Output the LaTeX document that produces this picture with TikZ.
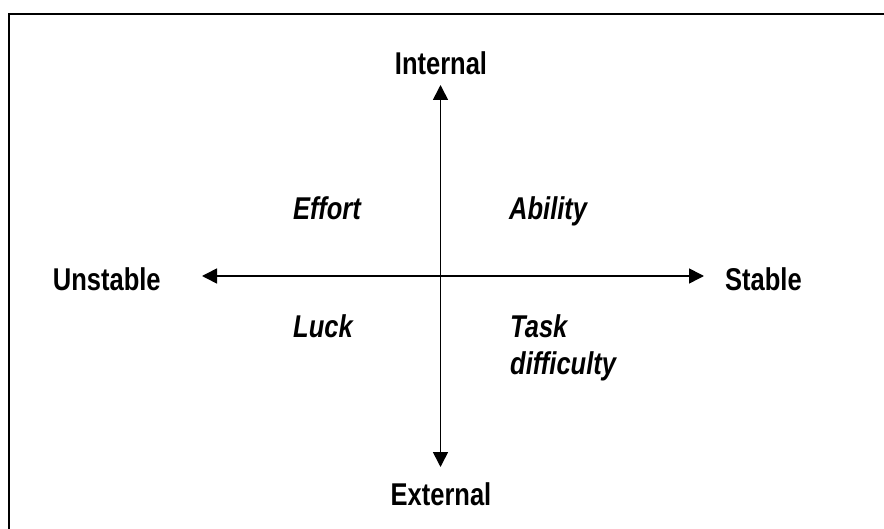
\documentclass[tikz,border=0pt]{standalone}
\usepackage{fontspec}
\setmainfont{Liberation Sans}[FakeStretch=0.81]
\usetikzlibrary{arrows.meta}
\begin{document}
\begin{tikzpicture}[x=1pt,y=-1pt,
  axis/.style={line width=1.6pt,{Triangle[length=15pt,width=15pt]}-{Triangle[length=15pt,width=15pt]}},
  lbl/.style={inner sep=0pt,font=\fontsize{31.5}{36}\selectfont\bfseries},
  cause/.style={lbl,font=\fontsize{31.5}{36}\selectfont\bfseries\itshape,align=left}]
\useasboundingbox (0,0) rectangle (884,529);
\draw[line width=2pt] (9,529) -- (9,14) -- (884,14);
\coordinate (top) at (440.5,85);
\coordinate (bot) at (440.5,467);
\coordinate (lft) at (202,276);
\coordinate (rgt) at (704,276);
\draw[axis] (top) -- (bot);
\draw[axis] (lft) -- (rgt);
\node[lbl,anchor=base] (int) at (441,75) {Internal};
\node[lbl,anchor=base] (ext) at (441,505) {External};
\node[lbl,anchor=base west] (uns) at (52.7,291) {Unstable};
\node[lbl,anchor=base west] (sta) at (725,291) {Stable};
\node[cause,anchor=base west] (eff) at (293,220) {Effort};
\node[cause,anchor=base west] (abi) at (509,220) {Ability};
\node[cause,anchor=base west] (luc) at (293,338) {Luck};
\node[cause,anchor=base west] (tas) at (510,374) {Task\\difficulty};
\end{tikzpicture}
\end{document}
